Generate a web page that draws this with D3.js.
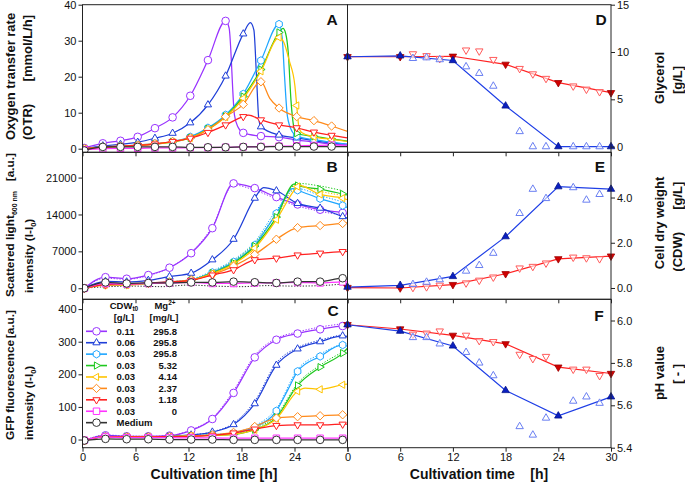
<!DOCTYPE html>
<html><head><meta charset="utf-8">
<script src="https://cdn.jsdelivr.net/npm/d3@7"></script>
<style>body{margin:0;background:#fff}svg{display:block}text{font-family:Arial,"Liberation Sans",sans-serif;fill:#111}</style>
</head><body><svg id="c" width="685" height="483"></svg>
<script>
// ---------- DATA ----------
const seriesKeys = ["purple","blue","cyan","green","yellow","orange","red","magenta","medium"];
const legendCDW = ["0.11","0.06","0.03","0.03","0.03","0.03","0.03","0.03","Medium"];
const legendMg  = ["295.8","295.8","295.8","5.32","4.14","2.37","1.18","0",""];

const markTimesA  = [0.2, 2.3, 4.3, 6.25, 8.2, 10.2, 12.2, 14.2, 16.2, 18.2, 20.2, 22.25, 24.25, 26.2, 28.2];
const markTimesBC = [0.2, 2.6, 5.0, 7.45, 9.85, 12.3, 14.7, 17.1, 19.5, 21.95, 24.35, 26.9, 29.45];

// Panel A: OTR [mmol/L/h]
const otrPurple  = [0.2, 1.5, 2.2, 3.3, 5.7, 8.7, 14.7, 24.6, 35.5, 4.4, 3.5, 3.2, 2.4, 1.9, 1.3];
const otrPurpleX = [[16.6,33.5],[17.2,9.4],[17.6,6.0],[30,1.0]];
const otrBlue    = [0, 0.8, 1.2, 1.8, 2.9, 4.3, 7.2, 12.2, 20.2, 31.9, 6.1, 3.8, 3.0, 2.2, 1.6];
const otrBlueX   = [[19.0,35.0],[19.4,33],[19.7,20],[19.95,8.5],[30,1.2]];
const otrCyan    = [0, 0.5, 0.7, 1.0, 1.4, 2.0, 3.3, 5.8, 9.4, 15.2, 24.5, 34.6, 3.5, 2.5, 1.8];
const otrCyanX   = [[22.6,31],[22.85,21],[23.2,9],[23.75,4.7],[30,1.2]];
const otrGreen   = [0, 0.4, 0.6, 0.9, 1.3, 1.9, 3.0, 5.5, 9.0, 14.5, 22.0, 32.3, 4.3, 3.4, 2.7];
const otrGreenX  = [[22.7,33.4],[23.0,32],[23.3,26.5],[23.6,13.5],[24.0,5.2],[30,2.1]];
const otrYellow  = [0, 0.4, 0.6, 0.9, 1.3, 1.9, 3.0, 5.3, 8.8, 14.0, 21.5, 30.9, 12.0, 3.3, 2.6];
const otrYellowX = [[22.8,29.5],[23.4,24.5],[24.05,17.4],[24.5,6.0],[24.8,4.5],[30,2.0]];
const otrOrange  = [0, 0.5, 0.7, 1.0, 1.4, 2.0, 3.0, 5.3, 8.9, 12.3, 18.6, 11.3, 8.9, 7.8, 6.3];
const otrOrangeX = [[21.2,14],[30,4.8]];
const otrRed     = [0, 0.4, 0.7, 0.9, 1.3, 2.0, 2.9, 4.5, 6.6, 8.9, 8.0, 6.6, 5.8, 4.6, 3.7];
const otrRedX    = [[18.8,9.3],[30,3.0]];
const otrMagenta = [-0.3, 0.0, 0.1, 0.1, 0.2, 0.2, 0.3, 0.3, 0.4, 0.5, 0.6, 0.7, 0.8, 0.9, 1.0];
const otrMagentaX= [[30,1.0]];
const otrMedium  = [-0.5, 0.5, 0.5, 0.5, 0.5, 0.5, 0.4, 0.4, 0.4, 0.5, 0.5, 0.6, 0.6, 0.6, 0.6];
const otrMediumX = [[30,0.6]];

// Panel B: scattered light [a.u.]
const slPurple  = [0, 2100, 1800, 2500, 3900, 6650, 11400, 19900, 19000, 17300, 15900, 14900, 14300];
const slPurpleX = [[17.6,19800],[30,14100]];
const slBlue    = [0, 1300, 1200, 1500, 2200, 2850, 5400, 9300, 17100, 18500, 16100, 15200, 13600];
const slBlueX   = [[20.5,19100],[30,13300]];
const slCyan    = [0, 800, 700, 1000, 1200, 1600, 3000, 5000, 8200, 14200, 18600, 17000, 15700];
const slCyanX   = [[23.8,18900],[30,15300]];
const slGreen   = [0, 700, 700, 900, 1100, 1500, 2900, 4800, 8000, 13500, 19500, 18800, 17900];
const slGreenX  = [[24.0,19800],[30,17700]];
const slYellow  = [0, 700, 600, 900, 1100, 1500, 2800, 4600, 7600, 13000, 19300, 17800, 17100];
const slYellowX = [[24.5,19500],[30,16800]];
const slOrange  = [0, 600, 700, 900, 1200, 1600, 2600, 4200, 6400, 9300, 11500, 11900, 12300];
const slOrangeX = [[30,12400]];
const slRed     = [0, 700, 800, 1000, 1200, 1500, 2500, 3500, 5400, 5700, 6300, 6650, 6950];
const slRedX    = [[30,7000]];
const slMagenta = [0, 900, 800, 900, 1000, 1100, 900, 900, 1000, 1000, 1100, 1000, 1200];
const slMagentaX= [[30,1200]];
const slMedium  = [0, 1100, 900, 1000, 1000, 1100, 1100, 1250, 1140, 1000, 1250, 1250, 1900];
const slMediumX = [[30,1700]];
// replicate (dotted) curves in B
const slPurpleDot = [0, 1900, 1700, 2400, 3900, 6800, 11700, 19600, 18600, 17000, 15600, 14600, 13900];
const slCyanDot   = [0, 600, 600, 900, 1200, 1700, 3300, 5400, 8800, 14800, 18900, 17600, 16400];
const slGreenDot  = [0, 800, 700, 900, 1200, 1600, 3100, 5200, 8600, 14200, 19900, 19400, 18500];
const slYellowDot = [0, 700, 700, 900, 1100, 1500, 2900, 4800, 7900, 13400, 19500, 18400, 17600];
const slMediumDotT = [0, 3, 6, 9, 12, 15, 18, 21, 24, 27, 30];
const slMediumDot  = [0, 300, 400, 300, 600, 400, 300, 500, 400, 500, 900];

// Panel C: GFP fluorescence [a.u.]
const gfpPurple  = [-3, 13, 10, 10, 12, 28, 63, 143, 252, 306, 325, 338, 348];
const gfpPurpleX = [[30,345]];
const gfpBlue    = [-3, 10, 9, 9, 10, 14, 23, 46, 110, 228, 278, 300, 318];
const gfpBlueX   = [[30,316]];
const gfpCyan    = [-3, 9, 8, 8, 9, 11, 14, 20, 38, 88, 209, 255, 290];
const gfpCyanX   = [[23.2,150],[30,286]];
const gfpGreen   = [-3, 9, 8, 8, 9, 11, 13, 16, 30, 68, 166, 222, 265];
const gfpGreenX  = [[30,280]];
const gfpYellow  = [-3, 9, 8, 8, 9, 11, 13, 16, 30, 64, 148, 154, 168];
const gfpYellowX = [[25.2,158],[30,170]];
const gfpOrange  = [-3, 9, 8, 8, 9, 11, 14, 22, 40, 66, 70, 73, 76];
const gfpOrangeX = [[30,76]];
const gfpRed     = [-3, 9, 8, 8, 9, 10, 13, 20, 32, 43, 45, 45, 47];
const gfpRedX    = [[30,47]];
const gfpMagenta = [-2, 8, 6, 6, 6, 5, 5, 4, 4, 4, 4, 4, 4];
const gfpMagentaX= [[30,4]];
const gfpMedium  = [-3, 2, 1, 1, 0, 0, 0, -1, -1, -1, -1, -1, -1];
const gfpMediumX = [[30,0]];
const gfpPurpleDot = [-3, 14, 11, 10, 12, 30, 66, 150, 258, 310, 330, 345, 355];
const gfpBlueDot   = [-3, 10, 9, 9, 10, 14, 24, 50, 118, 235, 282, 305, 322];
const gfpCyanDot   = [-3, 9, 8, 8, 9, 11, 15, 22, 42, 95, 215, 262, 295];
const gfpGreenDot  = [-3, 9, 8, 8, 9, 11, 14, 18, 34, 75, 172, 228, 268];

// Right panels
const rTimesFilled = [0, 6, 12, 18, 24, 30];
const rTimesOpen   = [7.45, 9.0, 10.5, 13.5, 15.0, 16.6, 19.6, 21.1, 22.6, 25.7, 27.2, 28.7];
const glyRedFilled  = [9.5, 9.5, 9.55, 8.7, 6.76, 5.7];
const glyBlueFilled = [9.5, 9.6, 9.1, 4.3, 0, 0];
const glyRedOpen    = [9.8, 9.6, 9.3, 10.2, 10.1, 9.2, 8.25, 7.68, 7.2, 6.4, 6.06, 5.8];
const glyBlueOpen   = [9.33, 9.4, 9.2, 8.45, 7.75, 6.4, 1.6, 0, 0, 0, 0, 0];
const cdwRedFilled  = [0.02, 0.0, 0.15, 0.63, 1.29, 1.41];
const cdwBlueFilled = [0.04, 0.12, 0.51, 2.27, 4.48, 4.37];
const cdwRedOpen    = [0.02, 0.05, 0.12, 0.22, 0.34, 0.48, 0.88, 0.95, 1.1, 1.36, 1.33, 1.29];
const cdwBlueOpen   = [0.16, 0.26, 0.37, 0.75, 1.0, 1.54, 3.3, 4.37, 3.96, 4.44, 3.89, 4.14];
const phRedFilled   = [5.98, 5.96, 5.93, 5.89, 5.78, 5.75];
const phBlueFilled  = [5.98, 5.95, 5.88, 5.67, 5.55, 5.64];
const phRedOpen     = [5.935, 5.94, 5.95, 5.93, 5.905, 5.9, 5.84, 5.82, 5.83, 5.77, 5.77, 5.74];
const phBlueOpen    = [5.92, 5.92, 5.89, 5.85, 5.80, 5.74, 5.5, 5.46, 5.54, 5.62, 5.64, 5.61];

const ticksA = [0,10,20,30,40], ticksB = [0,7000,14000,21000], ticksC = [0,100,200,300,400];
const ticksD = [0,5,10,15], ticksE = [0,2,4], ticksF = [5.4,5.6,5.8,6.0];
const ticksX = [0,6,12,18,24,30];

// ---------- STYLE ----------
const seriesColor = {purple:"#9933ff", blue:"#1f3fd8", cyan:"#1ea6ff", green:"#1ec81e", yellow:"#ffc400",
  orange:"#ff8a1a", red:"#ff2020", magenta:"#ff33ff", medium:"#333333"};
const seriesShape = {purple:"circle", blue:"up", cyan:"hex", green:"right", yellow:"left",
  orange:"diamond", red:"down", magenta:"square", medium:"circle"};

function shapePath(s, r){
  const p = a => a.map((q,i)=>(i?"L":"M")+q[0].toFixed(2)+","+q[1].toFixed(2)).join("")+"Z";
  const k = 0.866;
  switch(s){
    case "circle": return `M${r},0A${r},${r} 0 1,1 ${-r},0A${r},${r} 0 1,1 ${r},0Z`;
    case "up": return p([[0,-r*1.1],[r*k*1.1,r*0.55],[-r*k*1.1,r*0.55]]);
    case "down": return p([[0,r*1.1],[r*k*1.1,-r*0.55],[-r*k*1.1,-r*0.55]]);
    case "right": return p([[r*1.1,0],[-r*0.55,r*k*1.1],[-r*0.55,-r*k*1.1]]);
    case "left": return p([[-r*1.1,0],[r*0.55,r*k*1.1],[r*0.55,-r*k*1.1]]);
    case "diamond": return p([[0,-r*1.1],[r*1.1,0],[0,r*1.1],[-r*1.1,0]]);
    case "square": return p([[-r*0.85,-r*0.85],[r*0.85,-r*0.85],[r*0.85,r*0.85],[-r*0.85,r*0.85]]);
    case "hex": return p(d3.range(6).map(i=>[r*Math.cos(Math.PI/2+i*Math.PI/3), -r*Math.sin(Math.PI/2+i*Math.PI/3)]));
  }
}

const svg = d3.select("#c");
const L = [82.5, 347.5], R = [347.5, 611];
const rows = [[4.7,152.3],[152.3,299.3],[299.3,447.7]];
const xL = d3.scaleLinear().domain([0,30]).range(L);
const xR = d3.scaleLinear().domain([0,30]).range(R);
const yA = d3.scaleLinear().domain([-1,40]).range([rows[0][1],rows[0][0]]);
const yB = d3.scaleLinear().domain([-2100,25800]).range([rows[1][1],rows[1][0]]);
const yC = d3.scaleLinear().domain([-25,430]).range([rows[2][1],rows[2][0]]);
const yD = d3.scaleLinear().domain([-0.6,15]).range([rows[0][1],rows[0][0]]);
const yE = d3.scaleLinear().domain([-0.5,6]).range([rows[1][1],rows[1][0]]);
const yF = d3.scaleLinear().domain([5.4,6.1]).range([rows[2][1],rows[2][0]]);

function pts(times, vals, extra){
  const a = times.map((t,i)=>({t, v:vals[i], m:true}));
  (extra||[]).forEach(e=>a.push({t:e[0], v:e[1], m:false}));
  return a.sort((p,q)=>p.t-q.t);
}

const defs = svg.append("defs");
function clip(id, x0, x1, y0, y1){
  defs.append("clipPath").attr("id",id).append("rect").attr("x",x0).attr("y",y0).attr("width",x1-x0).attr("height",y1-y0);
}

function drawLeftPanel(idx, y, table, dots){
  const id = "clipL"+idx;
  clip(id, L[0], L[1], rows[idx][0], rows[idx][1]);
  const g = svg.append("g").attr("clip-path",`url(#${id})`);
  const line = d3.line().x(d=>xL(d.t)).y(d=>y(d.v)).curve(d3.curveMonotoneX);
  dots.forEach(([key, times, vals])=>{
    g.append("path").datum(pts(times, vals, [])).attr("d", line).attr("fill","none")
      .attr("stroke", seriesColor[key]).attr("stroke-width",1).attr("stroke-dasharray","1.3,1.6");
  });
  seriesKeys.forEach(key=>{
    const [times, vals, extra] = table[key];
    const data = pts(times, vals, extra);
    g.append("path").datum(data).attr("d", line).attr("fill","none")
      .attr("stroke", seriesColor[key]).attr("stroke-width",1.25);
    g.selectAll(null).data(data.filter(d=>d.m)).enter().append("path")
      .attr("d", shapePath(seriesShape[key], 3.8))
      .attr("transform", d=>`translate(${xL(d.t)},${y(d.v)})`)
      .attr("fill","#fff").attr("stroke", seriesColor[key]).attr("stroke-width",1);
  });
}

drawLeftPanel(0, yA, {
  purple:[markTimesA, otrPurple, otrPurpleX], blue:[markTimesA, otrBlue, otrBlueX],
  cyan:[markTimesA, otrCyan, otrCyanX], green:[markTimesA, otrGreen, otrGreenX],
  yellow:[markTimesA, otrYellow, otrYellowX], orange:[markTimesA, otrOrange, otrOrangeX],
  red:[markTimesA, otrRed, otrRedX], magenta:[markTimesA, otrMagenta, otrMagentaX],
  medium:[markTimesA, otrMedium, otrMediumX]}, []);
drawLeftPanel(1, yB, {
  purple:[markTimesBC, slPurple, slPurpleX], blue:[markTimesBC, slBlue, slBlueX],
  cyan:[markTimesBC, slCyan, slCyanX], green:[markTimesBC, slGreen, slGreenX],
  yellow:[markTimesBC, slYellow, slYellowX], orange:[markTimesBC, slOrange, slOrangeX],
  red:[markTimesBC, slRed, slRedX], magenta:[markTimesBC, slMagenta, slMagentaX],
  medium:[markTimesBC, slMedium, slMediumX]},
  [["purple",markTimesBC,slPurpleDot],["cyan",markTimesBC,slCyanDot],["green",markTimesBC,slGreenDot],
   ["yellow",markTimesBC,slYellowDot],["medium",slMediumDotT,slMediumDot]]);
drawLeftPanel(2, yC, {
  purple:[markTimesBC, gfpPurple, gfpPurpleX], blue:[markTimesBC, gfpBlue, gfpBlueX],
  cyan:[markTimesBC, gfpCyan, gfpCyanX], green:[markTimesBC, gfpGreen, gfpGreenX],
  yellow:[markTimesBC, gfpYellow, gfpYellowX], orange:[markTimesBC, gfpOrange, gfpOrangeX],
  red:[markTimesBC, gfpRed, gfpRedX], magenta:[markTimesBC, gfpMagenta, gfpMagentaX],
  medium:[markTimesBC, gfpMedium, gfpMediumX]},
  [["purple",markTimesBC,gfpPurpleDot],["blue",markTimesBC,gfpBlueDot],["cyan",markTimesBC,gfpCyanDot],["green",markTimesBC,gfpGreenDot]]);

function drawRightPanel(idx, y, rf, bf, ro, bo){
  const id = "clipR"+idx;
  clip(id, R[0]-6, R[1]+6, rows[idx][0], rows[idx][1]);
  const g = svg.append("g").attr("clip-path",`url(#${id})`);
  const line = d3.line().x((d,i)=>xR(rTimesFilled[i])).y(d=>y(d));
  g.append("path").datum(rf).attr("d",line).attr("fill","none").attr("stroke","#ff2222").attr("stroke-width",1.2);
  g.append("path").datum(bf).attr("d",line).attr("fill","none").attr("stroke","#1f3fe6").attr("stroke-width",1.2);
  g.selectAll(null).data(ro).enter().append("path").attr("d",shapePath("down",3.9))
    .attr("transform",(d,i)=>`translate(${xR(rTimesOpen[i])},${y(d)})`)
    .attr("fill","#fff").attr("fill-opacity",0.6).attr("stroke","#ff5a5a").attr("stroke-width",1);
  g.selectAll(null).data(bo).enter().append("path").attr("d",shapePath("up",3.9))
    .attr("transform",(d,i)=>`translate(${xR(rTimesOpen[i])},${y(d)})`)
    .attr("fill","#fff").attr("fill-opacity",0.6).attr("stroke","#6a7ff2").attr("stroke-width",1);
  g.selectAll(null).data(rf).enter().append("path").attr("d",shapePath("down",3.9))
    .attr("transform",(d,i)=>`translate(${xR(rTimesFilled[i])},${y(d)})`)
    .attr("fill","#d00000").attr("stroke","#a00000").attr("stroke-width",0.8);
  g.selectAll(null).data(bf).enter().append("path").attr("d",shapePath("up",3.9))
    .attr("transform",(d,i)=>`translate(${xR(rTimesFilled[i])},${y(d)})`)
    .attr("fill","#0a1fc0").attr("stroke","#06148a").attr("stroke-width",0.8);
}
drawRightPanel(0, yD, glyRedFilled, glyBlueFilled, glyRedOpen, glyBlueOpen);
drawRightPanel(1, yE, cdwRedFilled, cdwBlueFilled, cdwRedOpen, cdwBlueOpen);
drawRightPanel(2, yF, phRedFilled, phBlueFilled, phRedOpen, phBlueOpen);

function styleAxis(sel){
  sel.select(".domain").remove();
  sel.selectAll(".tick line").attr("stroke","#222");
  sel.selectAll(".tick text").attr("font-size",11).attr("font-family","Arial, 'Liberation Sans', sans-serif").attr("fill","#111");
}
const leftY = [[yA,ticksA,d3.format("d")],[yB,ticksB,d3.format("d")],[yC,ticksC,d3.format("d")]];
leftY.forEach(([y,tv,f],i)=>{
  svg.append("g").attr("transform",`translate(${L[0]},0)`)
    .call(d3.axisLeft(y).tickValues(tv).tickFormat(f).tickSize(4).tickSizeOuter(0).tickPadding(2)).call(styleAxis);
  svg.append("g").attr("transform",`translate(0,${rows[i][1]})`)
    .call(d3.axisBottom(xL).tickValues(ticksX).tickSize(4).tickSizeOuter(0).tickPadding(2)
      .tickFormat(d=> (i===2 && d<30) ? d : "")).call(styleAxis);
  svg.append("rect").attr("x",L[0]).attr("y",rows[i][0]).attr("width",L[1]-L[0]).attr("height",rows[i][1]-rows[i][0])
    .attr("fill","none").attr("stroke","#222").attr("stroke-width",1);
});
const rightY = [[yD,ticksD,d3.format("d")],[yE,ticksE,d3.format(".1f")],[yF,ticksF,d3.format(".1f")]];
rightY.forEach(([y,tv,f],i)=>{
  svg.append("g").attr("transform",`translate(${R[1]},0)`)
    .call(d3.axisRight(y).tickValues(tv).tickFormat(f).tickSize(4).tickSizeOuter(0).tickPadding(2)).call(styleAxis);
  svg.append("g").attr("transform",`translate(0,${rows[i][1]})`)
    .call(d3.axisBottom(xR).tickValues(ticksX).tickSize(4).tickSizeOuter(0).tickPadding(2)
      .tickFormat(d=> i===2 ? d : "")).call(styleAxis);
  svg.append("rect").attr("x",R[0]).attr("y",rows[i][0]).attr("width",R[1]-R[0]).attr("height",rows[i][1]-rows[i][0])
    .attr("fill","none").attr("stroke","#222").attr("stroke-width",1);
});

[["A",332,25],["B",332,171.7],["C",333,315.7],["D",601,25],["E",600,171.7],["F",599,320.7]].forEach(([t,x,y])=>{
  svg.append("text").attr("x",x).attr("y",y).attr("text-anchor","middle").attr("font-size",15.5).attr("font-weight","bold").text(t);
});

const NB = "\u00a0";
function vtext(x, y, anchor, parts, size){
  const t = svg.append("text").attr("transform",`translate(${x},${y}) rotate(-90)`).attr("dy","0.35em")
    .attr("text-anchor",anchor).attr("font-size",size||13).attr("font-weight","bold");
  parts.forEach(p=>{
    if (typeof p === "string") t.append("tspan").text(p);
    else t.append("tspan").attr("font-size",p.size).attr("dy",p.dy).text(p.t);
  });
  return t;
}
const S2 = 11.8;
vtext(10, 140, "start", ["Oxygen transfer rate"]);
vtext(27, 140, "start", ["(OTR)"]);
vtext(27, 15, "end", ["[mmol/L/h]"]);
vtext(10, 297, "start", ["Scattered light", {t:"600 nm", size:7, dy:3}, {t:"", size:S2, dy:-3}], S2);
vtext(10, 153, "end", ["[a.u.]"], S2);
vtext(28.5, 293, "start", ["intensity (I-I", {t:"0", size:7.5, dy:3}, {t:")", size:S2, dy:-3}], S2);
vtext(10, 440, "start", ["GFP fluorescence"], S2);
vtext(10, 310, "end", ["[a.u.]"], S2);
vtext(28.5, 440, "start", ["intensity (I-I", {t:"0", size:7.5, dy:3}, {t:")", size:S2, dy:-3}], S2);
vtext(659, 78, "middle", ["Glycerol"]);
vtext(677.5, 80, "middle", ["[g/L]"]);
vtext(659, 223, "middle", ["Cell dry weight"]);
vtext(677.5, 271.7, "start", ["(CDW)"]);
vtext(677.5, 181.7, "end", ["[g/L]"]);
vtext(659, 373, "middle", ["pH value"]);
vtext(677.5, 374, "middle", ["[" + NB + "-" + NB + "]"]);

svg.append("text").attr("x",214).attr("y",479).attr("text-anchor","middle").attr("font-size",14).attr("font-weight","bold")
  .text("Cultivation time [h]");
svg.append("text").attr("x",479).attr("y",479).attr("text-anchor","middle").attr("font-size",14).attr("font-weight","bold")
  .text("Cultivation time" + NB+NB+NB+NB + "[h]");

const lg = svg.append("g").attr("font-weight","bold").attr("font-size",9.5);
const h1 = lg.append("text").attr("x",124).attr("y",308.5).attr("text-anchor","middle");
h1.append("tspan").text("CDW");
h1.append("tspan").attr("font-size",6.5).attr("dy",2).text("t0");
lg.append("text").attr("x",124).attr("y",320.7).attr("text-anchor","middle").text("[g/L]");
const h2 = lg.append("text").attr("x",165).attr("y",308.5).attr("text-anchor","middle");
h2.append("tspan").text("Mg");
h2.append("tspan").attr("font-size",6.5).attr("dy",-4).text("2+");
lg.append("text").attr("x",164).attr("y",320.7).attr("text-anchor","middle").text("[mg/L]");
seriesKeys.forEach((key,i)=>{
  const yy = 331.3 + i*11.42;
  lg.append("line").attr("x1",86).attr("x2",107).attr("y1",yy).attr("y2",yy)
    .attr("stroke",seriesColor[key]).attr("stroke-width",1.6);
  lg.append("path").attr("d",shapePath(seriesShape[key],3.8)).attr("transform",`translate(96.5,${yy})`)
    .attr("fill","#fff").attr("stroke",seriesColor[key]).attr("stroke-width",1);
  lg.append("text").attr("x",116.5).attr("y",yy).attr("dy","0.35em").text(legendCDW[i]);
  if (legendMg[i]) lg.append("text").attr("x",177).attr("y",yy).attr("dy","0.35em").attr("text-anchor","end").text(legendMg[i]);
});
</script></body></html>
